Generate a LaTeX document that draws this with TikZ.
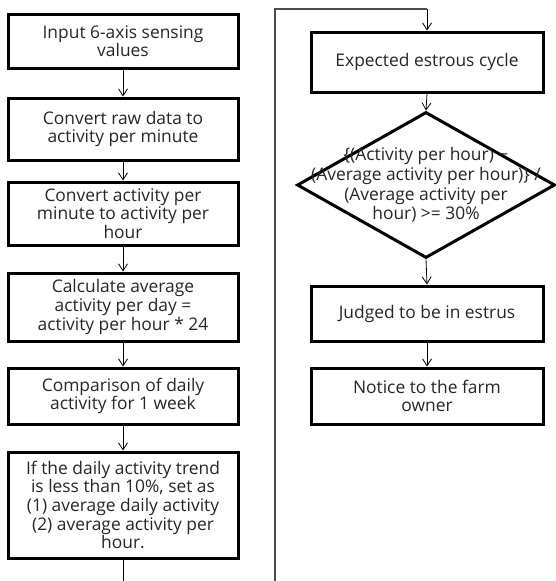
\documentclass[tikz,border=0pt]{standalone}
\usepackage{fontspec}
\setmainfont{Open Sans}
\usetikzlibrary{shapes.geometric,arrows.meta}
\begin{document}
\begin{tikzpicture}[x=1pt,y=-1pt,
  txt/.style={font=\fontsize{17.4}{18.6}\selectfont,text=black!85},
  box/.style={draw,line width=3pt,align=center,inner sep=0pt,txt},
  conn/.style={line width=0.8pt,-{Straight Barb[length=7pt,width=9pt,line width=0.8pt]}},
  plain/.style={line width=0.8pt}]
\useasboundingbox (0,0) rectangle (555,581);
\node[box,minimum width=230pt,minimum height=54pt] (b1) at (123,41) {Input 6-axis sensing\\values};
\node[box,minimum width=230pt,minimum height=62pt] (b2) at (123,129) {Convert raw data to\\activity per minute};
\node[box,minimum width=230pt,minimum height=63pt] (b3) at (123,213.5) {Convert activity per\\minute to activity per\\hour};
\node[box,minimum width=230pt,minimum height=68pt] (b4) at (123,307) {Calculate average\\activity per day =\\activity per hour * 24};
\node[box,minimum width=230pt,minimum height=56pt] (b5) at (123,396) {Comparison of daily\\activity for 1 week};
\node[box,minimum width=230pt,minimum height=106pt] (b6) at (123,505) {If the daily activity trend\\is less than 10\%, set as\\(1) average daily activity\\(2) average activity per\\hour.};
\coordinate (lend) at (123,581);
\draw[conn] (b1.south) -- (b2.north);
\draw[conn] (b2.south) -- (b3.north);
\draw[conn] (b3.south) -- (b4.north);
\draw[conn] (b4.south) -- (b5.north);
\draw[conn] (b5.south) -- (b6.north);
\draw[plain] (b6.south) -- (lend);

\node[box,minimum width=232pt,minimum height=60pt] (b7) at (427,62) {Expected estrous cycle};
\node[draw,diamond,line width=3pt,minimum width=258pt,minimum height=146pt,inner sep=0pt] (d) at (426,185) {};
\node[align=center,font=\fontsize{17.4}{19.6}\selectfont,text=black!85,inner sep=0pt] (dt) at (426,185) {\{(Activity per hour) −\\(Average activity per hour)\} /\\(Average activity per\\hour) >= 30\%};
\node[box,minimum width=232pt,minimum height=55pt] (b8) at (427,313.5) {Judged to be in estrus};
\node[box,minimum width=232pt,minimum height=56pt] (b9) at (427,396) {Notice to the farm\\owner};
\coordinate (rstart) at (275,581);
\coordinate (rtop) at (275,9);
\coordinate (rturn) at (b7.north |- rtop);
\draw[line width=1.2pt,black!70] (rstart) -- (rtop) -- (rturn);
\draw[conn] (rturn) -- (b7.north);
\draw[conn] (b7.south) -- (d.north);
\draw[conn] (d.south) -- (b8.north);
\draw[conn] (b8.south) -- (b9.north);
\end{tikzpicture}
\end{document}
